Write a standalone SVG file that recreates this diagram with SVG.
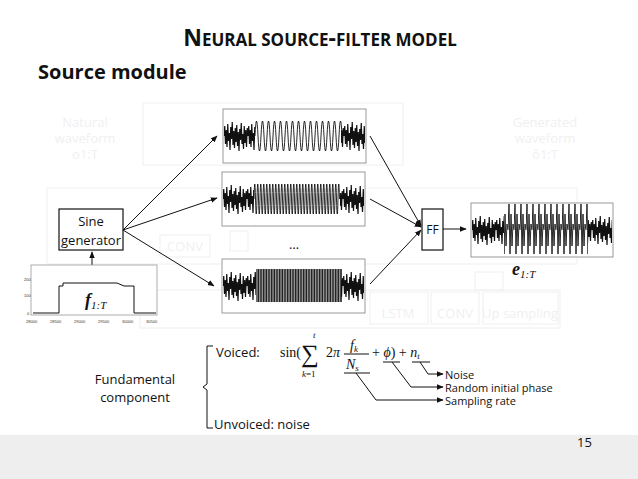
<svg xmlns="http://www.w3.org/2000/svg" width="638" height="479" viewBox="0 0 638 479">
<style>
.t{font-family:"Open Sans","Liberation Sans",sans-serif;fill:#111}
.m{font-family:"Liberation Serif","DejaVu Serif",serif;fill:#111}
.fd{fill:none;stroke:#f2f2f2;stroke-width:1.2}
.ft{font-family:"Open Sans","Liberation Sans",sans-serif;fill:#f0f0f0;font-size:13px;text-anchor:middle}
.box{fill:#fff;stroke:#111;stroke-width:1.2}
.wb{fill:#fff;stroke:#999;stroke-width:1}
.c{fill:none;stroke:#111;stroke-width:1}
.w{fill:none;stroke:#111;stroke-width:0.9}
.n{fill:none;stroke:#111;stroke-width:1.2}
</style>
<defs>
<marker id="a" viewBox="0 0 10 10" refX="9" refY="5" markerWidth="7" markerHeight="7" orient="auto"><path d="M0,1 L10,5 L0,9z" fill="#111"/></marker>
<pattern id="nz" patternUnits="userSpaceOnUse" width="24" height="60">
<path class="n" d="M0,30 L0.75,20 L1.5,38 L2.25,24 L3,41 L3.75,18 L4.5,35 L5.25,27 L6,44 L6.75,21 L7.5,33 L8.25,16 L9,39 L9.75,25 L10.5,42 L11.25,22 L12,36 L12.75,19 L13.5,40 L14.25,26 L15,45 L15.75,23 L16.5,34 L17.25,17 L18,38 L18.75,28 L19.5,43 L20.25,20 L21,37 L21.75,24 L22.5,41 L23.25,22 L24,30"/>
</pattern>
<pattern id="vs" patternUnits="userSpaceOnUse" width="1.6" height="60">
<rect width="1.1" height="60" fill="#111"/>
</pattern>
<pattern id="sp" patternUnits="userSpaceOnUse" width="6" height="60">
<path class="w" d="M0,30 L1,4 L2,54 L3,14 L4,46 L5,24 L6,30"/>
</pattern>
<g id="sine1"><path class="w" d="M0,30 q1.5,-30 3,0 t3,0 t3,0 t3,0 t3,0 t3,0 t3,0 t3,0 t3,0 t3,0 t3,0 t3,0 t3,0 t3,0 t3,0 t3,0 t3,0 t3,0 t3,0 t3,0 t3,0 t3,0 t3,0 t3,0 t3,0 t3,0 t3,0 t3,0 t3,0"/></g>
</defs>

<g id="bg">
<rect class="fd" x="143" y="103" width="260" height="62"/>
<rect class="fd" x="47" y="188" width="530" height="76"/>
<rect class="fd" x="140" y="290" width="420" height="38"/>
<rect class="fd" x="160" y="235" width="50" height="22"/>
<rect class="fd" x="230" y="231" width="18" height="20"/>
<rect class="fd" x="370" y="292" width="58" height="32"/>
<rect class="fd" x="431" y="292" width="48" height="32"/>
<rect class="fd" x="483" y="292" width="75" height="32"/>
<rect class="fd" x="475" y="272" width="28" height="18"/>
<text class="ft" x="85" y="127">Natural</text>
<text class="ft" x="85" y="143">waveform</text>
<text class="ft" x="85" y="159">o1:T</text>
<text class="ft" x="545" y="127">Generated</text>
<text class="ft" x="545" y="143">waveform</text>
<text class="ft" x="545" y="159">ô1:T</text>
<text class="ft" x="398" y="318">LSTM</text>
<text class="ft" x="455" y="318">CONV</text>
<text class="ft" x="520" y="318">Up sampling</text>
<text class="ft" x="185" y="251">CONV</text>
</g>

<text class="t" x="320" y="46" text-anchor="middle" font-weight="bold" font-size="23" fill="#222">N<tspan font-size="17">EURAL SOURCE</tspan>-<tspan font-size="17">FILTER MODEL</tspan></text>
<text class="t" x="38" y="79" font-weight="bold" font-size="20">Source module</text>

<rect x="0" y="435" width="638" height="44" fill="#eeeeee"/>
<text class="t" x="577" y="447" font-size="13">15</text>

<g id="connectors">
<line class="c" x1="123" y1="230" x2="217" y2="136" marker-end="url(#a)"/>
<line class="c" x1="123" y1="230" x2="217" y2="198" marker-end="url(#a)"/>
<line class="c" x1="123" y1="230" x2="214" y2="286" marker-end="url(#a)"/>
<line class="c" x1="92" y1="265" x2="92" y2="252" marker-end="url(#a)"/>
<line class="c" x1="370" y1="136" x2="421" y2="226" marker-end="url(#a)"/>
<line class="c" x1="370" y1="199" x2="421" y2="227" marker-end="url(#a)"/>
<line class="c" x1="370" y1="284" x2="421" y2="230" marker-end="url(#a)"/>
<line class="c" x1="443" y1="229" x2="466" y2="229" marker-end="url(#a)"/>
<polyline class="c" points="344,373 370,373"/>
<polyline class="c" points="383,362 400,362"/>
<polyline class="c" points="412,362 430,362"/>
<polyline class="c" points="356,373 376,400 443,400" marker-end="url(#a)"/>
<polyline class="c" points="392,362 411,387 443,387" marker-end="url(#a)"/>
<polyline class="c" points="420,362 428,374 443,374" marker-end="url(#a)"/>
</g>

<g id="wave1">
<rect class="wb" x="223" y="109" width="143" height="54"/>
<g transform="translate(224,106)"><rect width="31" height="60" fill="url(#nz)"/><use href="#sine1" x="31"/><rect x="117" width="24" height="60" fill="url(#nz)"/></g>
</g>
<g id="wave2">
<rect class="wb" x="222" y="172" width="143" height="54"/>
<g transform="translate(223,169)"><rect width="31" height="60" fill="url(#nz)"/>
<path class="w" d="M31,30 q0.75,-30 1.5,0 t1.5,0 t1.5,0 t1.5,0 t1.5,0 t1.5,0 t1.5,0 t1.5,0 t1.5,0 t1.5,0 t1.5,0 t1.5,0 t1.5,0 t1.5,0 t1.5,0 t1.5,0 t1.5,0 t1.5,0 t1.5,0 t1.5,0 t1.5,0 t1.5,0 t1.5,0 t1.5,0 t1.5,0 t1.5,0 t1.5,0 t1.5,0 t1.5,0 t1.5,0 t1.5,0 t1.5,0 t1.5,0 t1.5,0 t1.5,0 t1.5,0 t1.5,0 t1.5,0 t1.5,0 t1.5,0 t1.5,0 t1.5,0 t1.5,0 t1.5,0 t1.5,0 t1.5,0 t1.5,0 t1.5,0 t1.5,0 t1.5,0 t1.5,0 t1.5,0 t1.5,0 t1.5,0 t1.5,0 t1.5,0 t1.5,0"/>
<rect x="117" width="24" height="60" fill="url(#nz)"/></g>
</g>
<g id="wave3">
<rect class="wb" x="222" y="259" width="143" height="54"/>
<g transform="translate(223,256)"><rect width="33" height="60" fill="url(#nz)"/><rect x="33" y="13" width="86" height="33" fill="url(#vs)"/><rect x="118" width="23" height="60" fill="url(#nz)"/></g>
</g>
<text class="t" x="294" y="249" font-size="13" text-anchor="middle">…</text>

<g id="sine">
<rect class="box" x="59" y="209" width="64" height="41"/>
<text class="t" x="91" y="226" font-size="13" text-anchor="middle">Sine</text>
<text class="t" x="91" y="245" font-size="13" text-anchor="middle">generator</text>
</g>

<g id="f0">
<rect x="31" y="265" width="126" height="50" fill="#fff" stroke="#999" stroke-width="0.8"/>
<path fill="none" stroke="#111" stroke-width="1" d="M33,313 L59,313 L59,286 L63,286 L63,283 L117,283 L124,286 L134,286 L134,313 L156,313"/>
<text class="m" x="85" y="306" font-size="18" font-style="italic" font-weight="bold">f<tspan font-size="11" font-weight="normal" dy="3">1:T</tspan></text>
<g font-family="Liberation Sans,sans-serif" font-size="4" fill="#333">
<text x="24" y="281">200</text><text x="24" y="297">100</text><text x="27" y="315">0</text>
<text x="26" y="323">28000</text><text x="50" y="323">28500</text><text x="74" y="323">29000</text><text x="98" y="323">29500</text><text x="122" y="323">30000</text><text x="146" y="323">30500</text>
</g>
</g>

<g id="ff">
<rect class="box" x="422" y="209" width="21" height="41"/>
<text class="t" x="432.5" y="234" font-size="12" text-anchor="middle">FF</text>
</g>

<g id="out">
<rect class="wb" x="471" y="203" width="142" height="54"/>
<g transform="translate(472,200)"><rect width="32" height="60" fill="url(#nz)"/><rect x="32" y="3" width="84" height="54" fill="url(#sp)"/><rect x="116" width="24" height="60" fill="url(#nz)"/></g>
<text class="m" x="512" y="275" font-size="18" font-style="italic" font-weight="bold">e<tspan font-size="11" font-weight="normal" dy="3">1:T</tspan></text>
</g>

<g id="formula">
<path class="c" d="M213,346 L207,346 L207,384 L203,387 L207,390 L207,428 L213,428"/>
<text class="t" x="135" y="384" font-size="13" text-anchor="middle">Fundamental</text>
<text class="t" x="135" y="402" font-size="13" text-anchor="middle">component</text>
<text class="t" x="216" y="357" font-size="13">Voiced:</text>
<text class="t" x="214" y="429" font-size="13">Unvoiced: noise</text>
<text class="m" x="280" y="357" font-size="14">sin(</text>
<text class="m" x="301" y="362" font-size="25">∑</text>
<text class="m" x="313" y="338" font-size="9" font-style="italic">t</text>
<text class="m" x="302" y="377" font-size="9"><tspan font-style="italic">k</tspan>=1</text>
<text class="m" x="326" y="357" font-size="14">2<tspan font-style="italic">π</tspan></text>
<text class="m" x="350" y="350" font-size="14" font-style="italic">f<tspan font-size="9" dy="2">k</tspan></text>
<line class="c" x1="344" y1="354" x2="369" y2="354"/>
<text class="m" x="346" y="369" font-size="14" font-style="italic">N<tspan font-size="9" dy="2">s</tspan></text>
<text class="m" x="372" y="357" font-size="14">+ <tspan font-style="italic">ϕ</tspan>) + <tspan font-style="italic">n</tspan><tspan font-size="9" dy="2" font-style="italic">t</tspan></text>
<text class="t" x="445" y="379" font-size="11">Noise</text>
<text class="t" x="445" y="392" font-size="11">Random initial phase</text>
<text class="t" x="445" y="405" font-size="11">Sampling rate</text>
</g>
</svg>
